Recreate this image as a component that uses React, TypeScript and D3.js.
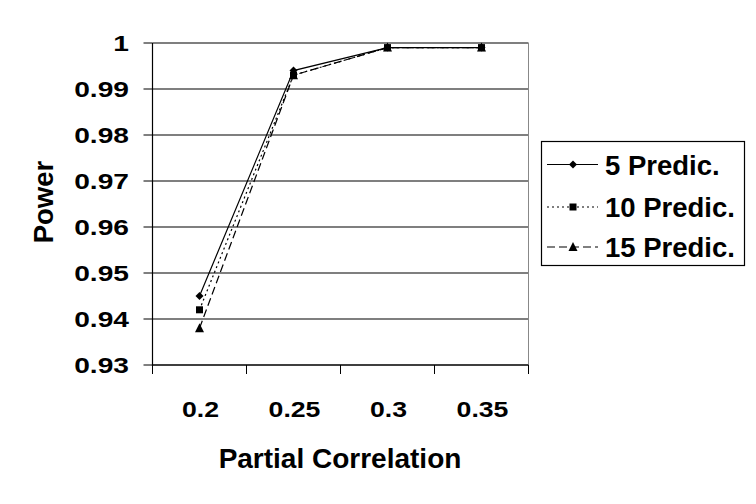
import React from "react";
import * as d3 from "d3";

const categories = ["0.2", "0.25", "0.3", "0.35"];
const seriesNames = ["5 Predic.", "10 Predic.", "15 Predic."];
const pred5 = [0.945, 0.994, 0.999, 0.999];
const pred10 = [0.942, 0.993, 0.999, 0.999];
const pred15 = [0.938, 0.993, 0.999, 0.999];
const yTicks = [0.93, 0.94, 0.95, 0.96, 0.97, 0.98, 0.99, 1];
const yTickLabels = ["0.93", "0.94", "0.95", "0.96", "0.97", "0.98", "0.99", "1"];

const W = 756, H = 504;
const left = 152.5, right = 528.5, top = 43, bottom = 365;
const font = "'Liberation Sans', Arial, sans-serif";

const styles = [
  { dash: undefined as string | undefined, marker: "diamond" },
  { dash: "2,3", marker: "square" },
  { dash: "8,4", marker: "triangle" },
];

function Marker({ type, x, y }: { type: string; x: number; y: number }) {
  if (type === "diamond") {
    const s = 4;
    return <path d={`M${x},${y - s}L${x + s},${y}L${x},${y + s}L${x - s},${y}Z`} fill="#000" />;
  }
  if (type === "square") {
    return <rect x={x - 3.5} y={y - 3.5} width={7} height={7} fill="#000" />;
  }
  return <path d={`M${x},${y - 5}L${x + 4.5},${y + 4}L${x - 4.5},${y + 4}Z`} fill="#000" />;
}

export default function App() {
  const series = [pred5, pred10, pred15];
  const x = d3.scaleBand<string>().domain(categories).range([left, right]);
  const y = d3.scaleLinear().domain([0.93, 1]).range([bottom, top]);
  const cx = (c: string) => (x(c) ?? 0) + x.bandwidth() / 2;
  const line = d3
    .line<number>()
    .x((_, i) => cx(categories[i]))
    .y((d) => y(d));
  const xTickPos = [...categories.map((c) => x(c) ?? 0), right];

  const legX = 541.5, legY = 141.5, legW = 203, legH = 124;
  const rowY = [164.5, 207, 247];

  return (
    <svg width={W} height={H} style={{ position: "absolute", left: 0, top: 0, background: "#fff" }}>
      <rect x={0} y={0} width={W} height={H} fill="#fff" />
      {yTicks.map((t, i) => (
        <line key={i} x1={left} x2={right} y1={y(t)} y2={y(t)} stroke="#000" strokeWidth={1.2} />
      ))}
      <line x1={right} x2={right} y1={top} y2={bottom} stroke="#888" strokeWidth={1} />
      <line x1={left} x2={left} y1={top} y2={bottom + 1} stroke="#000" strokeWidth={1.2} />
      {yTicks.map((t, i) => (
        <g key={i}>
          <line x1={left - 9} x2={left} y1={y(t)} y2={y(t)} stroke="#000" strokeWidth={1} />
          <text
            transform={`translate(129,${y(t) + 8}) scale(1.28,1)`}
            textAnchor="end"
            fontFamily={font}
            fontWeight="bold"
            fontSize={22}
          >
            {yTickLabels[i]}
          </text>
        </g>
      ))}
      <line x1={left} x2={right} y1={bottom} y2={bottom} stroke="#000" strokeWidth={1.2} />
      {xTickPos.map((p, i) => (
        <line key={i} x1={p} x2={p} y1={bottom} y2={bottom + 9} stroke="#000" strokeWidth={1} />
      ))}
      {categories.map((c) => (
        <text
          key={c}
          transform={`translate(${cx(c) + 1},417) scale(1.24,1)`}
          textAnchor="middle"
          fontFamily={font}
          fontWeight="bold"
          fontSize={21.5}
        >
          {c}
        </text>
      ))}
      {series.map((s, si) => (
        <g key={si}>
          <path d={line(s) ?? ""} fill="none" stroke="#000" strokeWidth={1.2} strokeDasharray={styles[si].dash} />
          {s.map((v, i) => (
            <Marker key={i} type={styles[si].marker} x={cx(categories[i])} y={y(v)} />
          ))}
        </g>
      ))}
      <text
        transform="translate(53,202) rotate(-90)"
        textAnchor="middle"
        fontFamily={font}
        fontWeight="bold"
        fontSize={27.5}
      >
        Power
      </text>
      <text x={340} y={468} textAnchor="middle" fontFamily={font} fontWeight="bold" fontSize={28}>
        Partial Correlation
      </text>
      <rect x={legX} y={legY} width={legW} height={legH} fill="#fff" stroke="#000" strokeWidth={1.2} />
      {seriesNames.map((n, i) => (
        <g key={n}>
          <line x1={547} x2={598} y1={rowY[i]} y2={rowY[i]} stroke="#000" strokeWidth={1.2} strokeDasharray={styles[i].dash} />
          <Marker type={styles[i].marker} x={573} y={rowY[i]} />
          <text x={605} y={rowY[i] + 10} fontFamily={font} fontWeight="bold" fontSize={27.5}>
            {n}
          </text>
        </g>
      ))}
    </svg>
  );
}
